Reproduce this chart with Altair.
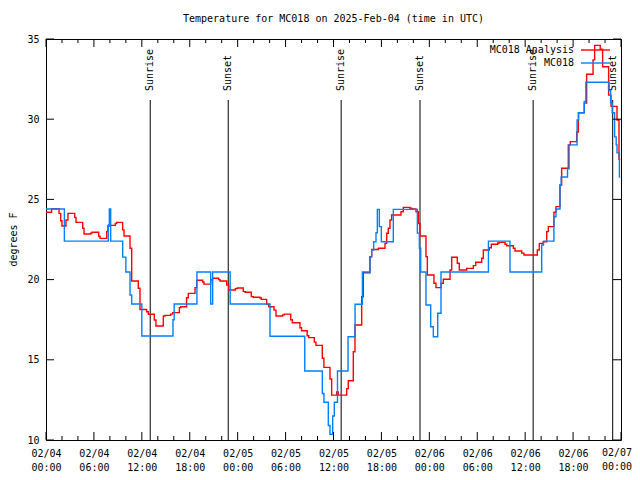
import altair as alt
import pandas as pd

# ---- data (hours since 2025-02-04 00:00 UTC) ----
red_hours = [0.0, 0.7, 1.63, 1.84, 2.0, 2.5, 2.75, 3.6, 3.76, 4.6,
             4.76, 5.6, 5.76, 6.6, 6.76, 7.6, 7.76, 7.93, 8.68, 8.85,
             9.6, 9.77, 10.52, 10.73, 11.56, 11.77, 12.6, 12.81, 13.56, 13.77,
             14.69, 14.9, 15.6, 15.86, 16.7, 16.87, 17.6, 17.82, 18.66, 18.87,
             19.62, 19.78, 20.62, 20.87, 21.62, 21.79, 22.63, 22.88, 23.7, 23.95,
             24.7, 24.96, 25.7, 25.96, 26.8, 26.96, 27.63, 27.88, 28.55, 28.8,
             29.64, 29.84, 30.64, 30.84, 31.8, 32.0, 32.7, 32.9, 33.6, 33.8,
             34.6, 34.8, 35.56, 35.77, 36.4, 36.6, 37.65, 37.85, 38.48, 38.69,
             39.53, 39.73, 40.57, 40.78, 41.61, 42.45, 42.66, 42.86, 43.07, 43.28,
             44.45, 44.74, 45.58, 45.79, 46.33, 46.62, 46.83, 47.58, 47.75, 48.58,
             48.83, 49.46, 49.75, 50.59, 50.8, 51.5, 51.75, 52.68, 53.51, 53.81,
             54.56, 54.76, 55.51, 55.76, 56.56, 56.76, 57.48, 57.69, 58.52, 58.73,
             59.57, 59.85, 61.52, 61.77, 62.27, 62.7, 62.9, 63.6, 63.86, 64.36,
             64.57, 65.4, 65.65, 66.45, 66.66, 67.4, 67.7, 68.5, 68.7, 69.4,
             69.7, 70.45, 70.75, 71.5, 71.75, 71.9]
red_temps = [24.2, 24.42, 24.13, 23.67, 23.34, 23.72, 24.13, 23.88, 23.57, 23.2,
             22.84, 22.9, 22.95, 22.7, 22.57, 23.0, 23.34, 23.38, 23.5, 23.57,
             23.1, 22.72, 21.95, 19.91, 19.46, 18.14, 18.0, 17.84, 17.48, 17.11,
             17.73, 17.77, 17.85, 17.94, 18.25, 18.31, 18.87, 19.14, 19.5, 19.96,
             19.85, 19.72, 19.99, 20.08, 20.0, 19.91, 19.66, 19.35, 19.44, 19.48,
             19.25, 19.21, 18.94, 18.9, 18.85, 18.77, 18.46, 18.31, 18.1, 17.73,
             17.8, 17.85, 17.5, 17.31, 17.0, 16.81, 16.5, 16.38, 16.1, 15.9,
             15.1, 14.53, 13.8, 12.8, 13.0, 12.8, 13.2, 13.69, 15.5, 17.17,
             18.93, 20.43, 21.43, 21.88, 21.95, 22.26, 22.89, 23.2, 23.72, 24.03,
             24.23, 24.5, 24.45, 24.4, 24.23, 23.5, 22.72, 21.43, 20.29, 19.77,
             19.5, 19.77, 20.02, 20.6, 21.39, 21.02, 20.6, 20.7, 20.87, 21.08,
             21.33, 21.85, 21.99, 22.2, 22.28, 22.32, 22.2, 22.11, 21.95, 21.78,
             21.65, 21.53, 21.85, 22.26, 22.36, 22.99, 23.3, 24.2, 24.55, 25.9,
             26.94, 28.4, 28.6, 29.2, 30.4, 31.0, 32.8, 33.7, 34.6, 34.36,
             33.27, 31.5, 30.8, 29.95, 27.5, 27.5]

blue_hours = [0.0, 2.3, 7.8, 7.93, 8.1, 9.6, 10.0, 10.52, 10.73, 12.0,
              15.9, 16.05, 18.9, 20.62, 20.87, 23.06, 28.05, 32.4, 34.6, 34.8,
              35.35, 35.56, 35.9, 36.1, 36.5, 37.82, 38.7, 39.62, 40.57, 40.78,
              41.03, 41.32, 41.49, 41.74, 41.99, 43.49, 46.5, 46.75, 46.92, 47.58,
              48.17, 48.5, 49.05, 49.46, 55.4, 58.1, 62.07, 62.3, 63.6, 63.86,
              64.36, 64.5, 65.3, 65.5, 66.5, 66.7, 67.4, 67.6, 70.5, 70.7,
              70.9, 71.2, 71.4, 71.5, 71.8, 71.9]
blue_temps = [24.4, 22.4, 23.4, 24.4, 22.4, 21.4, 20.47, 19.04, 18.48, 16.48,
              17.5, 18.48, 20.47, 18.48, 20.47, 18.48, 16.47, 14.3, 12.9, 12.35,
              10.9, 10.36, 11.5, 12.35, 14.3, 16.44, 18.46, 20.47, 21.4, 21.85,
              22.36, 22.92, 24.38, 23.3, 22.36, 24.38, 22.9, 21.95, 20.47, 18.42,
              17.06, 16.44, 17.9, 20.47, 22.4, 20.47, 22.16, 22.4, 23.92, 24.4,
              25.9, 26.4, 26.9, 28.4, 29.95, 30.4, 31.1, 32.3, 31.8, 31.0,
              30.4, 28.9, 28.4, 27.9, 26.4, 26.4]

sun_hours = [13.05, 22.82, 36.96, 46.83, 61.0, 70.96]
sun_labels = ["Sunrise", "Sunset", "Sunrise", "Sunset", "Sunrise", "Sunset"]

x_major = list(range(0, 73, 6))
x_minor = [h for h in range(0, 73, 2) if h % 6]
y_major = [10, 15, 20, 25, 30, 35]
last_label = ["02/07", "00:00"]

series_names = ["MC018 Analysis", "MC018"]
series_colors = ["#ff0000", "#0080ff"]
title_text = "Temperature for MC018 on 2025-Feb-04 (time in UTC)"
y_title = "degrees F"

assert len(red_hours) == len(red_temps)
assert len(blue_hours) == len(blue_temps)

FONT = "DejaVu Sans Mono"
W, H = 575, 401
LW = 1.4

red_df = pd.DataFrame({"hour": red_hours, "temp": red_temps})
blue_df = pd.DataFrame({"hour": blue_hours, "temp": blue_temps})
sun_df = pd.DataFrame({"hour": sun_hours, "label": sun_labels})
xmaj_df = pd.DataFrame({"hour": x_major})
xmin_df = pd.DataFrame({"hour": x_minor})
ymaj_df = pd.DataFrame({"temp": y_major})
xlast_df = pd.DataFrame({"hour": [x_major[-1]]})
one = pd.DataFrame({"k": [0]})

xs = alt.Scale(domain=[0, 72], nice=False, zero=False)
ys = alt.Scale(domain=[10, 35], nice=False, zero=False)

x_axis = alt.Axis(
    values=x_major[:-1],
    labelExpr="['02/0' + toString(4 + floor(datum.value / 24)), "
              "(datum.value % 24 < 10 ? '0' : '') + toString(datum.value % 24) + ':00']",
    ticks=False, domain=False, grid=False,
    labelFont=FONT, labelFontSize=10, labelColor="black",
    labelPadding=8, labelLineHeight=14,
    labelFlush=False, labelOverlap=False, labelBound=False, title=None,
)
y_axis = alt.Axis(
    values=y_major, ticks=False, domain=False, grid=False,
    labelFont=FONT, labelFontSize=10, labelColor="black",
    labelPadding=7, labelOverlap=False, labelFlush=False, title=None,
)

X = alt.X("hour:Q", scale=xs, axis=x_axis)
Y = alt.Y("temp:Q", scale=ys, axis=y_axis)

sun_rules = alt.Chart(sun_df).mark_rule(color="black", strokeWidth=1).encode(
    x=X, y=alt.value(61), y2=alt.value(H))
sun_text = alt.Chart(sun_df).mark_text(
    angle=270, align="left", baseline="middle", font=FONT, fontSize=10,
    color="black", dx=1).encode(x=X, y=alt.value(53), text="label:N")

red_line = alt.Chart(red_df).mark_line(
    interpolate="step-after", color=series_colors[0], strokeWidth=LW).encode(x=X, y=Y)
blue_line = alt.Chart(blue_df).mark_line(
    interpolate="step-after", color=series_colors[1], strokeWidth=LW).encode(x=X, y=Y)

tick_color = "black"
bot_major = alt.Chart(xmaj_df).mark_rule(color=tick_color).encode(
    x=X, y=alt.value(H), y2=alt.value(H - 8))
top_major = alt.Chart(xmaj_df).mark_rule(color=tick_color).encode(
    x=X, y=alt.value(0), y2=alt.value(8))
bot_minor = alt.Chart(xmin_df).mark_rule(color=tick_color).encode(
    x=X, y=alt.value(H), y2=alt.value(H - 4))
top_minor = alt.Chart(xmin_df).mark_rule(color=tick_color).encode(
    x=X, y=alt.value(0), y2=alt.value(4))
left_major = alt.Chart(ymaj_df).mark_rule(color=tick_color).encode(
    y=Y, x=alt.value(0), x2=alt.value(8))
right_major = alt.Chart(ymaj_df).mark_rule(color=tick_color).encode(
    y=Y, x=alt.value(W), x2=alt.value(W - 8))

txt = dict(font=FONT, fontSize=10, color="black")

# last x label (kept inside the page edge)
last_lab = alt.Chart(xlast_df).mark_text(
    align="center", baseline="top", lineHeight=14, dx=-4, **txt).encode(
    x=X, y=alt.value(H + 8), text=alt.value(last_label))

leg_red_text = alt.Chart(one).mark_text(align="right", baseline="middle", **txt).encode(
    x=alt.value(528), y=alt.value(11), text=alt.value(series_names[0]))
leg_red_line = alt.Chart(one).mark_rule(color=series_colors[0], strokeWidth=LW).encode(
    x=alt.value(535), x2=alt.value(564), y=alt.value(11))
leg_blue_text = alt.Chart(one).mark_text(align="right", baseline="middle", **txt).encode(
    x=alt.value(528), y=alt.value(24), text=alt.value(series_names[1]))
leg_blue_line = alt.Chart(one).mark_rule(color=series_colors[1], strokeWidth=LW).encode(
    x=alt.value(535), x2=alt.value(564), y=alt.value(24))

title_mark = alt.Chart(one).mark_text(align="center", baseline="middle", **txt).encode(
    x=alt.value(W / 2), y=alt.value(-20), text=alt.value(title_text))
ytitle_mark = alt.Chart(one).mark_text(
    align="center", baseline="middle", angle=270, **txt).encode(
    x=alt.value(-32), y=alt.value(H / 2), text=alt.value(y_title))

chart = alt.layer(
    sun_rules, sun_text, red_line, blue_line,
    bot_major, top_major, bot_minor, top_minor, left_major, right_major,
    last_lab,
    leg_red_text, leg_red_line, leg_blue_text, leg_blue_line,
    title_mark, ytitle_mark,
).properties(
    width=W, height=H,
    autosize=alt.AutoSizeParams(type="none"),
    padding={"left": 38, "top": 31, "right": 11, "bottom": 32},
    background="white",
).configure_view(
    stroke="black", strokeWidth=1,
)

chart.save("out.html", embed_options={"renderer": "svg", "actions": False})
